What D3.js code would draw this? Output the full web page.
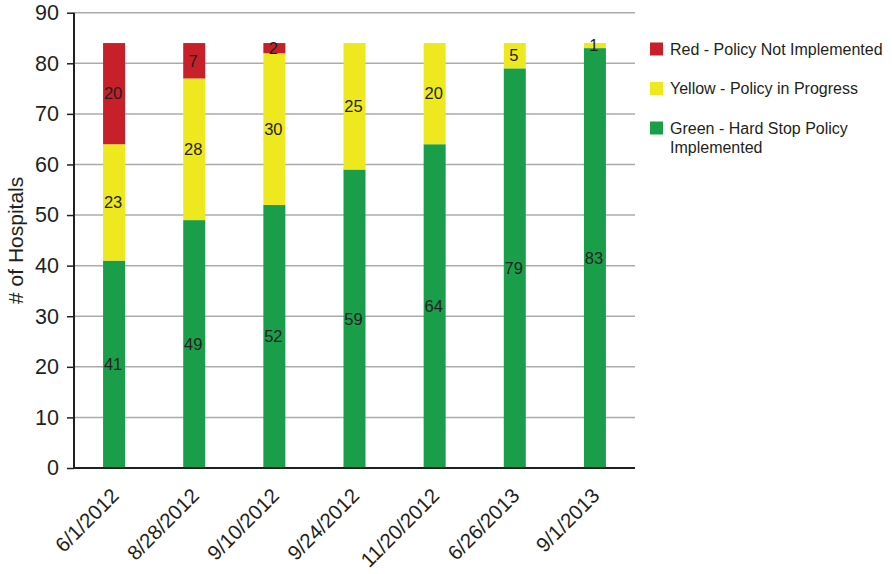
<!DOCTYPE html>
<html><head><meta charset="utf-8">
<script src="https://cdn.jsdelivr.net/npm/d3@7"></script>
<style>
body{margin:0;background:#fff;}
svg{display:block;font-family:"Liberation Sans",Arial,Helvetica,sans-serif;}
</style></head>
<body><svg id="chart" width="892" height="574"></svg>
<script>
const categories = ["6/1/2012","8/28/2012","9/10/2012","9/24/2012","11/20/2012","6/26/2013","9/1/2013"];
const greenValues = [41,49,52,59,64,79,83];
const yellowValues = [23,28,30,25,20,5,1];
const redValues = [20,7,2,0,0,0,0];
const yTicks = [0,10,20,30,40,50,60,70,80,90];
const seriesNames = ["Green - Hard Stop Policy Implemented","Yellow - Policy in Progress","Red - Policy Not Implemented"];
const seriesColors = ["#1a9e4a","#eee81e","#c8202a"];

const svg = d3.select("#chart");
const textColor = "#231f20";
const mLeft = 74, mRight = 635, mTop = 12.7, mBottom = 468;

const x = d3.scaleBand().domain(categories).range([mLeft,mRight]).paddingInner(0.7255).paddingOuter(0.7255/2);
const y = d3.scaleLinear().domain([0,90]).range([mBottom,mTop]);

const rows = categories.map((c,i)=>({cat:c, green:greenValues[i], yellow:yellowValues[i], red:redValues[i]}));
const stack = d3.stack().keys(["green","yellow","red"])(rows);

// gridlines
svg.append("g").selectAll("line").data(yTicks.filter(t=>t>0)).join("line")
  .attr("x1",mLeft).attr("x2",mRight).attr("y1",d=>y(d)).attr("y2",d=>y(d))
  .attr("stroke","#ababab").attr("stroke-width",1.5);

// bars
const g = svg.append("g");
stack.forEach((layer,li)=>{
  g.append("g").attr("fill",seriesColors[li]).selectAll("rect").data(layer).join("rect")
    .attr("x",d=>x(d.data.cat)).attr("width",x.bandwidth())
    .attr("y",d=>y(d[1])).attr("height",d=>y(d[0])-y(d[1]));
});
// labels
stack.forEach((layer,li)=>{
  g.append("g").selectAll("text").data(layer.filter(d=>d[1]-d[0]>0)).join("text")
    .attr("x",d=>x(d.data.cat)+x.bandwidth()/2 - 1)
    .attr("y",d=>y((d[0]+d[1])/2))
    .attr("dy","0.35em")
    .attr("text-anchor","middle").attr("font-size",16.5).attr("fill",textColor)
    .text(d=>d[1]-d[0]);
});

// y axis
const yAxis = svg.append("g").attr("transform",`translate(${mLeft},0)`)
  .call(d3.axisLeft(y).tickValues(yTicks).tickSize(7).tickPadding(8));
yAxis.select(".domain").attr("stroke","#231f20").attr("stroke-width",2).attr("d",`M0,${mTop}V${mBottom}`);
yAxis.selectAll(".tick line").attr("stroke","#231f20").attr("stroke-width",1.5);
yAxis.selectAll(".tick text").attr("font-size",21.5).attr("fill",textColor).attr("font-family","Liberation Sans,Arial,sans-serif");

// x axis
const xAxis = svg.append("g").attr("transform",`translate(0,${mBottom})`)
  .call(d3.axisBottom(x).tickSize(0).tickPadding(0));
xAxis.select(".domain").attr("stroke","#231f20").attr("stroke-width",2).attr("d",`M${mLeft},0H${mRight}`);
xAxis.selectAll(".tick text")
  .attr("font-size",20.5).attr("fill",textColor).attr("font-family","Liberation Sans,Arial,sans-serif")
  .attr("text-anchor","end").attr("dy",null).attr("y",0)
  .attr("transform","translate(6,29) rotate(-45)");

// y title
svg.append("text").attr("transform",`translate(23,${(mTop+mBottom)/2}) rotate(-90)`)
  .attr("text-anchor","middle").attr("font-size",21).attr("fill",textColor).text("# of Hospitals");

// legend
const legendItems = [
  {color:seriesColors[2], lines:["Red - Policy Not Implemented"]},
  {color:seriesColors[1], lines:["Yellow - Policy in Progress"]},
  {color:seriesColors[0], lines:["Green - Hard Stop Policy","Implemented"]}
];
const lg = svg.append("g").attr("transform","translate(650,49)");
legendItems.forEach((it,i)=>{
  const row = lg.append("g").attr("transform",`translate(0,${i*39.5})`);
  row.append("rect").attr("x",0).attr("y",-6.5).attr("width",13).attr("height",13).attr("fill",it.color);
  const t = row.append("text").attr("x",20).attr("y",0).attr("font-size",16).attr("fill",textColor);
  it.lines.forEach((l,j)=>t.append("tspan").attr("x",20).attr("dy",j===0?"0.35em":"1.2em").text(l));
});
</script></body></html>
